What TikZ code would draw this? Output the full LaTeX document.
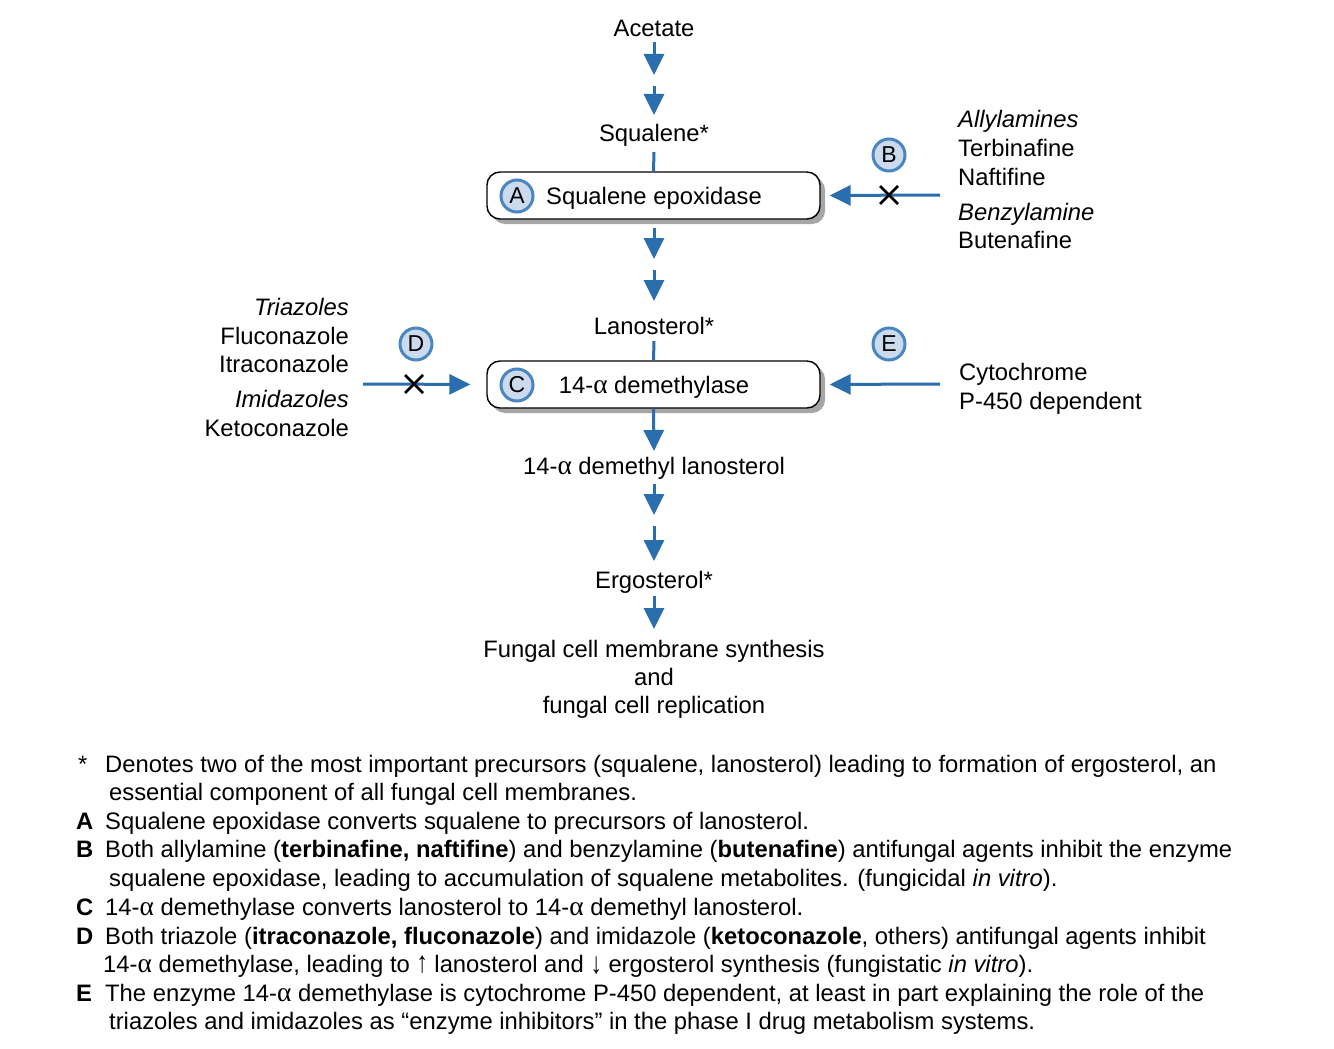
\documentclass[tikz,border=0pt]{standalone}
\usepackage{fontspec}
\usepackage{graphicx}
\setmainfont{Liberation Sans}
\newfontfamily\grkfont[Scale=1.15]{Liberation Serif}
\usetikzlibrary{arrows.meta,shadows}
\newcommand\alp{{\grkfont α}}
\newcommand\uparr{\smash{\scalebox{0.95}[1.25]{↑}}}
\newcommand\dnarr{\smash{\raisebox{-1pt}{\scalebox{0.95}[1.25]{↓}}}}
\definecolor{arrowblue}{HTML}{2A6EAD}
\definecolor{ringblue}{HTML}{4A86C0}
\definecolor{circfill}{HTML}{CBDBED}
\begin{document}
\begin{tikzpicture}[x=1pt,y=-1pt,
  lbl/.style={font=\fontsize{23.8}{28}\selectfont, inner sep=0pt, anchor=base},
  lbll/.style={font=\fontsize{23.8}{28}\selectfont, inner sep=0pt, anchor=base west},
  lblr/.style={font=\fontsize{23.8}{28}\selectfont, inner sep=0pt, anchor=base east},
  ftxt/.style={font=\fontsize{23.8}{28}\selectfont, inner sep=0pt, anchor=base west},
  fkey/.style={font=\fontsize{23.8}{28}\selectfont\bfseries, inner sep=0pt, anchor=base west},
  arr/.style={draw=arrowblue, line width=3pt, -{Triangle[length=21pt,width=20pt]}},
  stem/.style={draw=arrowblue, line width=3pt},
  enz/.style={draw=black, line width=1.4pt, fill=white, rounded corners=13pt,
    minimum width=333pt, minimum height=47pt, inner sep=0pt,
    drop shadow={shadow xshift=5pt, shadow yshift=-5pt, fill=black!35, opacity=1}},
  badge/.style={circle, draw=ringblue, line width=3pt, fill=circfill,
    minimum size=32pt, inner sep=0pt, font=\fontsize{23}{26}\selectfont},
  xm/.style={line width=2.5pt, draw=black}]
\useasboundingbox (0,0) rectangle (1334,1049);

% main pathway
\node[lbl] (acetate) at (654,37) {Acetate};
\node[lbl] (squalene) at (654,141) {Squalene*};
\node[enz] (boxA) at (653.5,195.5) {};
\node[lbl] (sqep) at (654,204) {Squalene epoxidase};
\node[badge] (cA) at (517,196) {A};
\node[lbl] (lanost) at (654,334) {Lanosterol*};
\node[enz] (boxC) at (653.5,384.5) {};
\node[lbl] (demeth) at (654,393) {14-\alp{} demethylase};
\node[badge] (cC) at (517,385) {C};
\node[lbl] (dml) at (654,474) {14-\alp{} demethyl lanosterol};
\node[lbl] (ergo) at (654,588) {Ergosterol*};
\node[lbl] (fung1) at (654,657) {Fungal cell membrane synthesis};
\node[lbl] (fung2) at (654,685) {and};
\node[lbl] (fung3) at (654,713) {fungal cell replication};

\coordinate (a1s) at (654,42);  \coordinate (a1e) at (654,75);
\coordinate (a2s) at (654,86);  \coordinate (a2e) at (654,115);
\coordinate (sqs) at (654,152);
\coordinate (a3s) at (654,228); \coordinate (a3e) at (654,259);
\coordinate (a4s) at (654,270); \coordinate (a4e) at (654,301);
\coordinate (lns) at (654,341);
\coordinate (a6s) at (654,484); \coordinate (a6e) at (654,515);
\coordinate (a7s) at (654,526); \coordinate (a7e) at (654,561);
\coordinate (a8s) at (654,596); \coordinate (a8e) at (654,629);
\coordinate (a5e) at (654,451);

\draw[arr] (a1s) -- (a1e);
\draw[arr] (a2s) -- (a2e);
\draw[stem] (sqs) -- (boxA.north);
\draw[arr] (a3s) -- (a3e);
\draw[arr] (a4s) -- (a4e);
\draw[stem] (lns) -- (boxC.north);
\draw[arr] (boxC.south) -- (a5e);
\draw[arr] (a6s) -- (a6e);
\draw[arr] (a7s) -- (a7e);
\draw[arr] (a8s) -- (a8e);

% B: allylamines
\node[badge] (cB) at (889,155) {B};
\coordinate (bS) at (940,195);
\coordinate (xB) at (889,195);
\draw[arr, shorten >=9pt] (bS) -- (boxA.east);
\draw[xm] (xB) +(-9,-9) -- +(9,9) (xB) +(-9,9) -- +(9,-9);
\node[lbll] (allyl) at (958,127) {\itshape Allylamines};
\node[lbll] (terb) at (958,156) {Terbinafine};
\node[lbll] (naft) at (958,185) {Naftifine};
\node[lbll] (benzyl) at (958,220) {\itshape Benzylamine};
\node[lbll] (buten) at (958,248) {Butenafine};

% D: azoles
\node[badge] (cD) at (416,344) {D};
\coordinate (dS) at (363,384);
\coordinate (xD) at (414,384);
\draw[arr, shorten >=16pt] (dS) -- (boxC.west);
\draw[xm] (xD) +(-9,-9) -- +(9,9) (xD) +(-9,9) -- +(9,-9);
\node[lblr] (triaz) at (349,315) {\itshape Triazoles};
\node[lblr] (fluc) at (349,344) {Fluconazole};
\node[lblr] (itra) at (349,372) {Itraconazole};
\node[lblr] (imid) at (349,407) {\itshape Imidazoles};
\node[lblr] (keto) at (349,436) {Ketoconazole};

% E: cytochrome
\node[badge] (cE) at (889,344) {E};
\coordinate (eS) at (940,384);
\draw[arr, shorten >=9pt] (eS) -- (boxC.east);
\node[lbll] (cyto1) at (959,380) {Cytochrome};
\node[lbll] (cyto2) at (959,409) {P-450 dependent};

% footnotes
\node[ftxt] (kstar) at (78,772) {*};
\node[ftxt] (f1) at (105,772) {Denotes two of the most important precursors (squalene, lanosterol) leading to formation of ergosterol, an};
\node[ftxt] (f2) at (109,800) {essential component of all fungal cell membranes.};
\node[fkey] (kA) at (76,829) {A};
\node[ftxt] (f3) at (105,829) {Squalene epoxidase converts squalene to precursors of lanosterol.};
\node[fkey] (kB) at (76,857) {B};
\node[ftxt] (f4) at (105,857) {Both allylamine (\textbf{terbinafine, naftifine}) and benzylamine (\textbf{butenafine}) antifungal agents inhibit the enzyme};
\node[ftxt] (f5) at (109,886) {squalene epoxidase, leading to accumulation of squalene metabolites. (fungicidal \textit{in vitro}).};
\node[fkey] (kC) at (76,915) {C};
\node[ftxt] (f6) at (105,915) {14-\alp{} demethylase converts lanosterol to 14-\alp{} demethyl lanosterol.};
\node[fkey] (kD) at (76,944) {D};
\node[ftxt] (f7) at (105,944) {Both triazole (\textbf{itraconazole, fluconazole}) and imidazole (\textbf{ketoconazole}, others) antifungal agents inhibit};
\node[ftxt] (f8) at (103,972) {14-\alp{} demethylase, leading to \uparr{} lanosterol and \dnarr{} ergosterol synthesis (fungistatic \textit{in vitro}).};
\node[fkey] (kE) at (76,1001) {E};
\node[ftxt] (f9) at (105,1001) {The enzyme 14-\alp{} demethylase is cytochrome P-450 dependent, at least in part explaining the role of the};
\node[ftxt] (f10) at (109,1029) {triazoles and imidazoles as “enzyme inhibitors” in the phase I drug metabolism systems.};
\end{tikzpicture}
\end{document}
